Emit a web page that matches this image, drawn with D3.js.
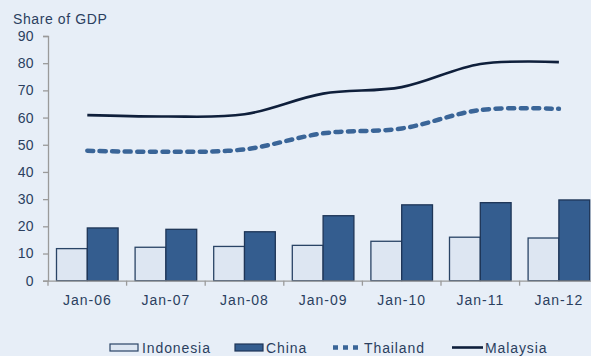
<!DOCTYPE html>
<html><head><meta charset="utf-8">
<script src="https://cdn.jsdelivr.net/npm/d3@7"></script>
<style>
html,body{margin:0;padding:0;background:#e7eef7;overflow:hidden}
svg{display:block}
text{font-family:"Liberation Sans",Arial,sans-serif;fill:#2b3f5f}
</style></head>
<body>
<svg id="c" width="591" height="356"></svg>
<script>
const categories = ["Jan-06","Jan-07","Jan-08","Jan-09","Jan-10","Jan-11","Jan-12"];
const indonesia = [11.8, 12.3, 12.6, 13.0, 14.5, 16.0, 15.7];
const china     = [19.4, 18.9, 18.0, 23.9, 27.9, 28.7, 29.7];
const thailand  = [47.8, 47.4, 48.3, 54.2, 56.0, 62.8, 63.2];
const malaysia  = [60.9, 60.4, 61.2, 68.8, 71.2, 79.7, 80.4];
const yTicks = [0,10,20,30,40,50,60,70,80,90];
const legendLabels = ["Indonesia","China","Thailand","Malaysia"];

const svg = d3.select("#c");
svg.append("rect").attr("width",591).attr("height",356).attr("fill","#e7eef7");

const x0 = 48, yBottom = 280.7, yTop = 36, band = 78.6;
const x = d3.scaleBand().domain(categories).range([x0, x0 + band*categories.length]).padding(0);
const y = d3.scaleLinear().domain([0,90]).range([yBottom, yTop]);
const inner = d3.scaleBand().domain(["Indonesia","China"]).range([8.5, band-8.5]).padding(0);

// bars
const barSeries = [
  {name:"Indonesia", vals:indonesia, fill:"#dde6f2", stroke:"#2a4466"},
  {name:"China", vals:china, fill:"#345d8f", stroke:"#1e3557"}
];
barSeries.forEach(s=>{
  svg.append("g").selectAll("rect").data(categories).join("rect")
    .attr("x", c=> x(c) + inner(s.name))
    .attr("y", (c,i)=> y(s.vals[i]))
    .attr("width", inner.bandwidth())
    .attr("height", (c,i)=> yBottom - y(s.vals[i]))
    .attr("fill", s.fill).attr("stroke", s.stroke).attr("stroke-width",1.3);
});

// axes
const yAxis = svg.append("g").attr("transform",`translate(${x0},0)`)
  .call(d3.axisLeft(y).tickValues(yTicks).tickSize(5).tickPadding(9));
yAxis.select(".domain").attr("stroke","#9a9a9a").attr("stroke-width",1.3);
yAxis.selectAll(".tick line").attr("stroke","#9a9a9a").attr("stroke-width",1.3);
yAxis.selectAll("text").style("font-size","14px").style("letter-spacing","0.4px").attr("fill","#2b3f5f");

const xAxis = svg.append("g").attr("transform",`translate(0,${yBottom})`)
  .call(d3.axisBottom(x).tickSize(0).tickPadding(14));
xAxis.select(".domain").attr("stroke","#9a9a9a").attr("stroke-width",1.3);
xAxis.selectAll("text").style("font-size","14px").style("letter-spacing","1px").attr("fill","#2b3f5f");
// category boundary ticks
svg.append("g").selectAll("line").data(categories).join("line")
  .attr("x1", c=>x(c)).attr("x2", c=>x(c))
  .attr("y1", yBottom).attr("y2", yBottom+5)
  .attr("stroke","#9a9a9a").attr("stroke-width",1.3);

// lines
const line = d3.line()
  .x((d,i)=> x(categories[i]) + x.bandwidth()/2)
  .y(d=> y(d))
  .curve(d3.curveCatmullRom.alpha(0.5));
svg.append("path").datum(thailand).attr("d", line)
  .attr("fill","none").attr("stroke","#3a6598").attr("stroke-width",4.5)
  .attr("stroke-linecap","round").attr("stroke-dasharray","6,6.5");
svg.append("path").datum(malaysia).attr("d", line)
  .attr("fill","none").attr("stroke","#0f1f3b").attr("stroke-width",2.6);

// title
svg.append("text").attr("x",13).attr("y",24).style("font-size","14px").style("letter-spacing","0.6px").text("Share of GDP");

// legend
const lg = svg.append("g");
const ly = 347.5;
lg.append("rect").attr("x",110).attr("y",ly-3.5).attr("width",28).attr("height",7)
  .attr("fill","#dde6f2").attr("stroke","#2a4466").attr("stroke-width",1.2);
lg.append("rect").attr("x",235).attr("y",ly-3.5).attr("width",28).attr("height",7)
  .attr("fill","#345d8f").attr("stroke","#1e3557").attr("stroke-width",1.2);
lg.append("line").attr("x1",333).attr("x2",360).attr("y1",ly).attr("y2",ly)
  .attr("stroke","#3a6598").attr("stroke-width",4.5).attr("stroke-dasharray","5,5");
lg.append("line").attr("x1",452).attr("x2",483).attr("y1",ly).attr("y2",ly)
  .attr("stroke","#0f1f3b").attr("stroke-width",2.6);
const lx = [142, 266, 364, 485];
lg.selectAll("text").data(legendLabels).join("text")
  .attr("x",(d,i)=>lx[i]).attr("y",352.5)
  .style("font-size","14px").style("letter-spacing","0.9px").text(d=>d);
</script>
</body></html>
